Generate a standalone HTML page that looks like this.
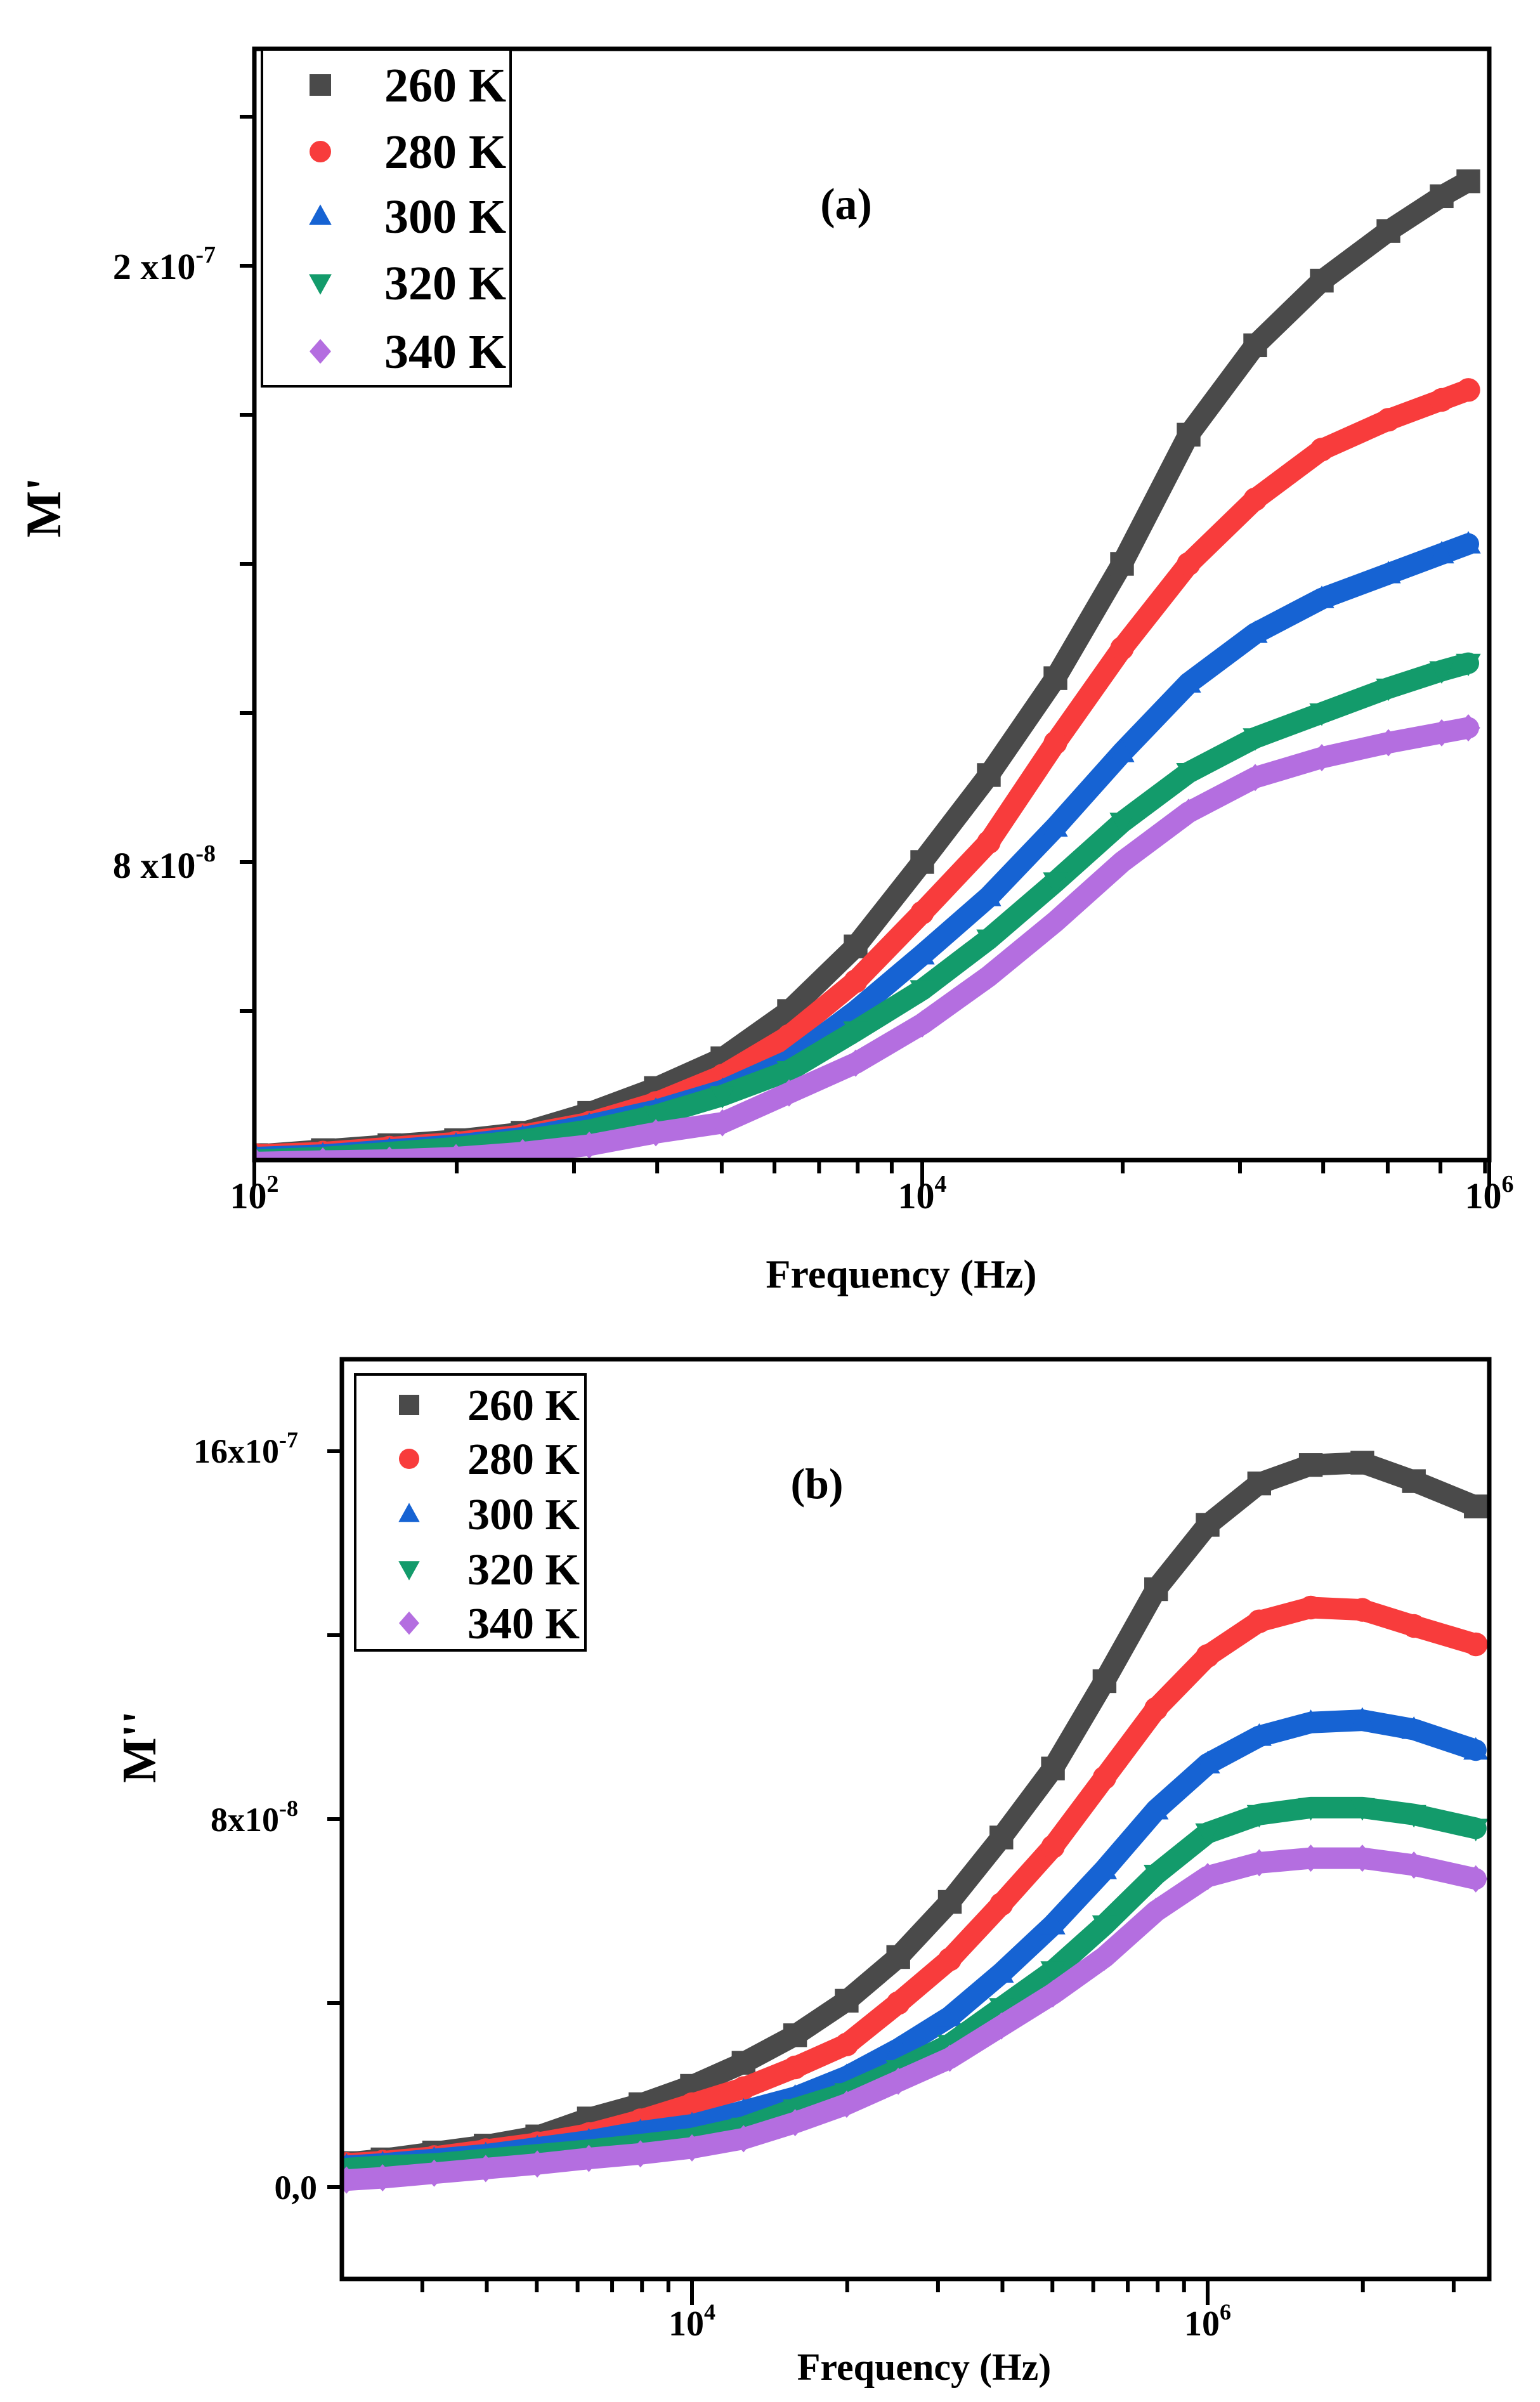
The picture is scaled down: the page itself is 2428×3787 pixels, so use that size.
<!DOCTYPE html>
<html><head><meta charset="utf-8"><style>
html,body{margin:0;padding:0;background:#fff;}
svg{display:block;font-family:"Liberation Serif",serif;font-weight:bold;}
</style></head><body>
<svg id="fig" width="2428" height="3787" viewBox="0 0 2428 3787" xmlns="http://www.w3.org/2000/svg">
<defs>
<clipPath id="clipA"><rect x="401" y="77" width="1947" height="1752"/></clipPath>
<clipPath id="clipB"><rect x="539" y="2143" width="1809" height="1450"/></clipPath>
</defs>
<g id="panelA">
<g id="seriesA" clip-path="url(#clipA)"></g>
<rect x="401" y="77" width="1947" height="1752" fill="none" stroke="#000" stroke-width="7"/>
<g id="ticksA"></g>
<text x="1334" y="345" font-size="70" text-anchor="middle">(a)</text>
<text transform="translate(95,800) rotate(-90)" font-size="78" text-anchor="middle">M'</text>
<text x="1421" y="2030" font-size="64" text-anchor="middle">Frequency (Hz)</text>
<text x="340" y="440" font-size="58" text-anchor="end">2 x10<tspan dy="-26" font-size="38">-7</tspan></text>
<text x="340" y="1384" font-size="58" text-anchor="end">8   x10<tspan dy="-26" font-size="38">-8</tspan></text>
<text x="401" y="1905" font-size="58" text-anchor="middle">10<tspan dy="-26" font-size="38">2</tspan></text>
<text x="1454" y="1905" font-size="58" text-anchor="middle">10<tspan dy="-26" font-size="38">4</tspan></text>
<text x="2348" y="1905" font-size="58" text-anchor="middle">10<tspan dy="-26" font-size="38">6</tspan></text>
<g id="legendA">
<rect x="413" y="78" width="392" height="531" fill="#fff" stroke="#000" stroke-width="4"/>
</g>
</g>
<g id="panelB">
<g id="seriesB" clip-path="url(#clipB)"></g>
<rect x="539" y="2143" width="1809" height="1450" fill="none" stroke="#000" stroke-width="7"/>
<g id="ticksB"></g>
<text x="1288" y="2362" font-size="68" text-anchor="middle">(b)</text>
<text transform="translate(245,2754) rotate(-90)" font-size="76" text-anchor="middle">M''</text>
<text x="1457" y="3752" font-size="60" text-anchor="middle">Frequency (Hz)</text>
<text x="470" y="2306" font-size="54" text-anchor="end">16x10<tspan dy="-24" font-size="36">-7</tspan></text>
<text x="470" y="2887" font-size="54" text-anchor="end">8x10<tspan dy="-24" font-size="36">-8</tspan></text>
<text x="500" y="3467" font-size="54" text-anchor="end">0,0</text>
<text x="1091" y="3682" font-size="56" text-anchor="middle">10<tspan dy="-25" font-size="36">4</tspan></text>
<text x="1904" y="3682" font-size="56" text-anchor="middle">10<tspan dy="-25" font-size="36">6</tspan></text>
<g id="legendB">
<rect x="560" y="2167" width="363" height="435" fill="#fff" stroke="#000" stroke-width="4"/>
</g>
</g>
</svg>
<script>
// ---- Panel (a): M' vs log10 frequency (values in 1e-8 units) ----
const aLg    = [3.0,3.1,3.2,3.3,3.4,3.5,3.6,3.7,3.8,3.9,4.0,4.1,4.2,4.3,4.4,4.5,4.6,4.7,4.78,4.82];
const a260   = [2.1,2.2,2.3,2.4,2.55,2.95,3.45,4.05,5.0,6.3,8.0,9.75,11.7,14.0,16.6,18.4,19.7,20.7,21.4,21.7];
const a280   = [2.1,2.15,2.25,2.35,2.5,2.75,3.15,3.7,4.5,5.6,6.98,8.4,10.4,12.3,14.0,15.3,16.3,16.9,17.3,17.5];
const a300   = [2.05,2.1,2.2,2.3,2.45,2.7,3.0,3.4,4.0,5.0,6.13,7.3,8.7,10.2,11.6,12.6,13.3,13.8,14.2,14.4];
const a320   = [2.0,2.05,2.15,2.25,2.4,2.6,2.9,3.3,3.8,4.6,5.43,6.45,7.6,8.8,9.8,10.5,11.0,11.5,11.85,12.0];
const a340   = [1.95,1.98,2.0,2.05,2.15,2.3,2.55,2.75,3.35,3.95,4.74,5.7,6.8,8.0,9.0,9.7,10.1,10.4,10.6,10.7];
const aYTicks = [23,20,17,14,11,8,5];
// ---- Panel (b): M'' vs log10 frequency (values in 1e-8 units) ----
const bLg    = [3.33,3.4,3.5,3.6,3.7,3.8,3.9,4.0,4.1,4.2,4.3,4.4,4.5,4.6,4.7,4.8,4.9,5.0,5.1,5.2,5.3,5.4,5.52];
const b260   = [0.52,0.6,0.75,0.9,1.1,1.49,1.8,2.2,2.7,3.3,4.05,5.0,6.2,7.6,9.1,11.0,13.0,14.4,15.3,15.7,15.75,15.35,14.8];
const b280   = [0.5,0.55,0.65,0.8,0.95,1.15,1.45,1.8,2.15,2.6,3.1,4.0,4.95,6.15,7.4,8.9,10.4,11.55,12.3,12.6,12.55,12.2,11.8];
const b300   = [0.45,0.5,0.6,0.7,0.85,1.0,1.2,1.35,1.65,1.95,2.4,3.0,3.7,4.65,5.7,6.9,8.2,9.2,9.8,10.1,10.15,9.95,9.5];
const b320   = [0.4,0.45,0.5,0.6,0.7,0.8,0.92,1.05,1.3,1.7,2.05,2.55,3.1,3.9,4.7,5.7,6.8,7.7,8.1,8.25,8.25,8.1,7.8];
const b340   = [0.15,0.2,0.3,0.4,0.5,0.62,0.72,0.85,1.05,1.4,1.8,2.3,2.8,3.5,4.2,5.0,6.0,6.75,7.05,7.15,7.15,7.0,6.7];
const bYTicks = [16,12,8,4,0];
const legendLabels = ["260 K","280 K","300 K","320 K","340 K"];

const NS="http://www.w3.org/2000/svg";
const colors=["#4a4a4a","#f83c3c","#1663d3","#139b6b","#b46ee0"];
const shapes=["square","circle","up","down","diamond"];
function xa(lg){return 1454+(lg-4)*1050;}
function ya(v){return 184+(23-v)*235/3;}
function xb(lg){return 1091+(lg-4)*813;}
function yb(v){return 3448-v*72.5;}

function mk(tag,attrs,parent){const e=document.createElementNS(NS,tag);for(const k in attrs)e.setAttribute(k,attrs[k]);parent.appendChild(e);return e;}
function marker(shape,x,y,s,color,parent){
  let e;const h=s/2;
  if(shape==="square")e=mk("rect",{x:x-h,y:y-h,width:s,height:s,fill:color},parent);
  else if(shape==="circle")e=mk("circle",{cx:x,cy:y,r:h,fill:color},parent);
  else if(shape==="up")e=mk("polygon",{points:`${x},${y-h*1.1} ${x-h*1.05},${y+h*0.8} ${x+h*1.05},${y+h*0.8}`,fill:color},parent);
  else if(shape==="down")e=mk("polygon",{points:`${x},${y+h*1.1} ${x-h*1.05},${y-h*0.8} ${x+h*1.05},${y-h*0.8}`,fill:color},parent);
  else e=mk("polygon",{points:`${x},${y-h*1.15} ${x+h},${y} ${x},${y+h*1.15} ${x-h},${y}`,fill:color},parent);
  return e;
}
function drawSeries(g,lgs,vals,fx,fy,i,size,name){
  const grp=mk("g",{},g);
  
  
  const pts=lgs.map((l,j)=>fx(l)+","+fy(vals[j])).join(" ");
  const pl=mk("polyline",{points:pts,fill:"none",stroke:colors[i],"stroke-width":size,"stroke-linejoin":"round","stroke-linecap":"round"},grp);
  
  
  lgs.forEach((l,j)=>{
    const m=marker(shapes[i],fx(l),fy(vals[j]),size*1.1,colors[i],grp);
    
    
  });
}
const gA=document.getElementById("seriesA");
[a260,a280,a300,a320,a340].forEach((s,i)=>drawSeries(gA,aLg,s,xa,ya,i,34,"series-a-"+legendLabels[i].replace(" K","k")));
const gB=document.getElementById("seriesB");
[b260,b280,b300,b320,b340].forEach((s,i)=>drawSeries(gB,bLg,s,xb,yb,i,34,"series-b-"+legendLabels[i].replace(" K","k")));

function tick(parent,x1,y1,x2,y2,name){
  const t=mk("line",{x1:x1,y1:y1,x2:x2,y2:y2,stroke:"#000","stroke-width":6},parent);
  
  
}
const tA=document.getElementById("ticksA");
aYTicks.forEach(v=>tick(tA,401,ya(v),378,ya(v),"y-tick-a"));
tick(tA,401,1829,401,1870,"x-tick-a-major");
tick(tA,1454,1829,1454,1870,"x-tick-a-major");
tick(tA,2348,1829,2348,1870,"x-tick-a-major");
[2,3,4,5,6,7,8,9].forEach(k=>tick(tA,xa(3+Math.log10(k)),1829,xa(3+Math.log10(k)),1850,"x-tick-a-minor"));
[2,3,4,5,6,7].forEach(k=>tick(tA,xa(4+Math.log10(k)),1829,xa(4+Math.log10(k)),1850,"x-tick-a-minor"));
const tB=document.getElementById("ticksB");
bYTicks.forEach(v=>tick(tB,539,yb(v),516,yb(v),"y-tick-b"));
tick(tB,1091,3593,1091,3634,"x-tick-b-major");
tick(tB,1904,3593,1904,3634,"x-tick-b-major");
[3,4,5,6,7,8,9].forEach(k=>tick(tB,xb(3+Math.log10(k)),3593,xb(3+Math.log10(k)),3614,"x-tick-b-minor"));
[2,3,4,5,6,7,8,9].forEach(k=>tick(tB,xb(4+Math.log10(k)),3593,xb(4+Math.log10(k)),3614,"x-tick-b-minor"));
[2,3].forEach(k=>tick(tB,xb(5+Math.log10(k)),3593,xb(5+Math.log10(k)),3614,"x-tick-b-minor"));

function legend(gid,rows,mx,tx,size,fs){
  const g=document.getElementById(gid);
  rows.forEach((y,i)=>{
    const m=marker(shapes[i],mx,y,size,colors[i],g);
    
    
    const t=mk("text",{x:tx,y:y+fs*0.34,"font-size":fs},g);
    t.textContent=legendLabels[i];
    
    
  });
}
legend("legendA",[134,239,341,446,554],505,606,34,76);
legend("legendB",[2215,2300,2387,2474,2559],645,737,32,70);
</script>
</body></html>
